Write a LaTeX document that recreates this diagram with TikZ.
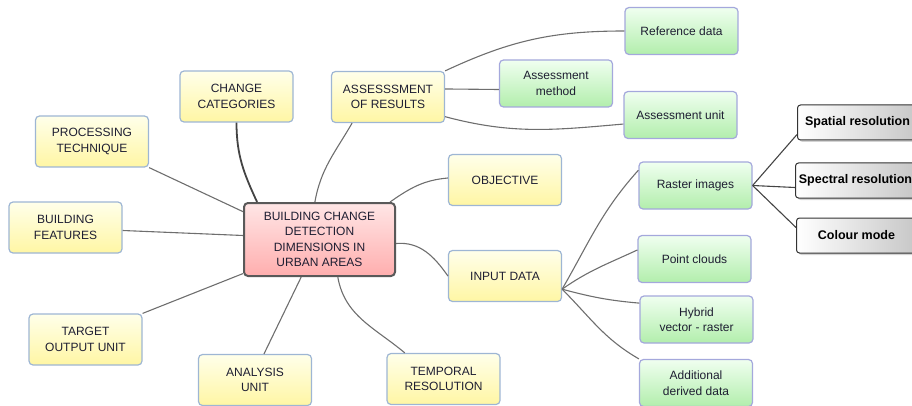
\documentclass[tikz,border=0pt]{standalone}
\usepackage{fontspec}
\setmainfont{Liberation Sans}
\usetikzlibrary{shadows}

\definecolor{txt}{HTML}{1E1E32}
\definecolor{yellowline}{HTML}{9EB6D4}
\definecolor{yellowtop}{HTML}{FFFFEA}
\definecolor{yellowbot}{HTML}{FFF6A4}
\definecolor{greenline}{HTML}{A4A8DC}
\definecolor{greentop}{HTML}{F0FFF0}
\definecolor{greenbot}{HTML}{B2EEAC}
\definecolor{pinktop}{HTML}{FFE6E6}
\definecolor{pinkbot}{HTML}{FFAEAE}
\definecolor{linkgray}{HTML}{6E6E6E}
\definecolor{darklink}{HTML}{444444}

\begin{document}
\begin{tikzpicture}[x=1pt,y=-1pt,
    every node/.style={font=\fontsize{12}{15.5}\selectfont, text=txt, align=center},
    yellowbox/.style={draw=yellowline, line width=1.2pt, rounded corners=4pt,
        top color=yellowtop, bottom color=yellowbot, minimum width=113pt, minimum height=51pt},
    greenbox/.style={draw=greenline, line width=1.2pt, rounded corners=4pt,
        top color=greentop, bottom color=greenbot, minimum width=113pt, minimum height=47pt},
    mainbox/.style={draw=black!65, line width=2pt, rounded corners=4pt,
        top color=pinktop, bottom color=pinkbot, minimum width=151pt, minimum height=73pt},
    greybox/.style={draw=black!80, line width=1pt, rounded corners=3pt, anchor=west,
        left color=white, right color=black!22, minimum width=120pt, minimum height=35pt,
        font=\fontsize{12.5}{15}\selectfont\bfseries, text=black,
        drop shadow={shadow xshift=2pt, shadow yshift=-2pt, opacity=.35}},
    link/.style={draw=linkgray, line width=1.1pt}]
    \useasboundingbox (0,0) rectangle (912,406);
    \clip (0,0) rectangle (912,406);

    \node[mainbox] (dims) at (319.5,239.5) {BUILDING CHANGE\\DETECTION\\DIMENSIONS IN\\URBAN AREAS};

    \node[yellowbox] (categories) at (236.5,96.5) {CHANGE\\CATEGORIES};
    \node[yellowbox] (assess) at (388,97) {ASSESSSMENT\\OF RESULTS};
    \node[yellowbox] (processing) at (92,141.5) {PROCESSING\\TECHNIQUE};
    \node[yellowbox] (features) at (65.5,227.5) {BUILDING\\FEATURES};
    \node[yellowbox] (objective) at (505,180) {OBJECTIVE};
    \node[yellowbox] (input) at (505,276) {INPUT DATA};
    \node[yellowbox] (target) at (85.5,339.5) {TARGET\\OUTPUT UNIT};
    \node[yellowbox] (analysis) at (255,380) {ANALYSIS\\UNIT};
    \node[yellowbox] (temporal) at (443.5,379) {TEMPORAL\\RESOLUTION};

    \node[greenbox] (refdata) at (681.5,31) {Reference data};
    \node[greenbox] (method) at (556,83.5) {Assessment\\method};
    \node[greenbox] (unit) at (680.5,115) {Assessment unit};
    \node[greenbox] (raster) at (695.5,185.5) {Raster images};
    \node[greenbox] (clouds) at (694.5,259) {Point clouds};
    \node[greenbox] (hybrid) at (696.5,319.5) {Hybrid\\vector - raster};
    \node[greenbox] (derived) at (696,383) {Additional\\derived data};

    \node[greybox] (spatial) at (797,122.5) {Spatial resolution};
    \node[greybox] (spectral) at (795,180.5) {Spectral resolution};
    \node[greybox] (colour) at (796,235.5) {Colour mode};

    % branches of the centre node
    \draw[link, draw=darklink, line width=1.8pt] (dims.149) to[out=115, in=-90] (categories.south);
    \draw[link] (dims.97) to[out=80, in=-120] (assess.216);
    \draw[link] (dims.28) to[out=35, in=185] (objective.178);
    \draw[link] (dims.357) to[out=5, in=125] (input.west);
    \draw[link] (dims.160) -- (processing.south east);
    \draw[link] (dims.177) -- (features.357);
    \draw[link] (dims.204) -- (target.north east);
    \draw[link] (dims.244) -- (analysis.71);
    \draw[link] (dims.296) to[out=-80, in=140] (temporal.146);

    % assessment
    \draw[link] (assess.north east) to[out=25, in=180] (refdata.west);
    \draw[link] (assess.8) -- (method.186);
    \draw[link] (assess.341) to[out=-15, in=185] (unit.189);

    % input data
    \draw[link] (input.347) to[out=60, in=228] (raster.165);
    \draw[link] (input.347) to[out=35, in=205] (clouds.171);
    \draw[link] (input.347) to[out=-15, in=175] (hybrid.164);
    \draw[link] (input.347) to[out=-45, in=150] (derived.north west);

    \draw[link, draw=darklink] (raster.east) -- ([yshift=-12pt]spatial.west);
    \draw[link, draw=darklink] (raster.east) -- ([yshift=-7pt]spectral.west);
    \draw[link, draw=darklink] (raster.east) -- ([yshift=8pt]colour.west);
\end{tikzpicture}
\end{document}
